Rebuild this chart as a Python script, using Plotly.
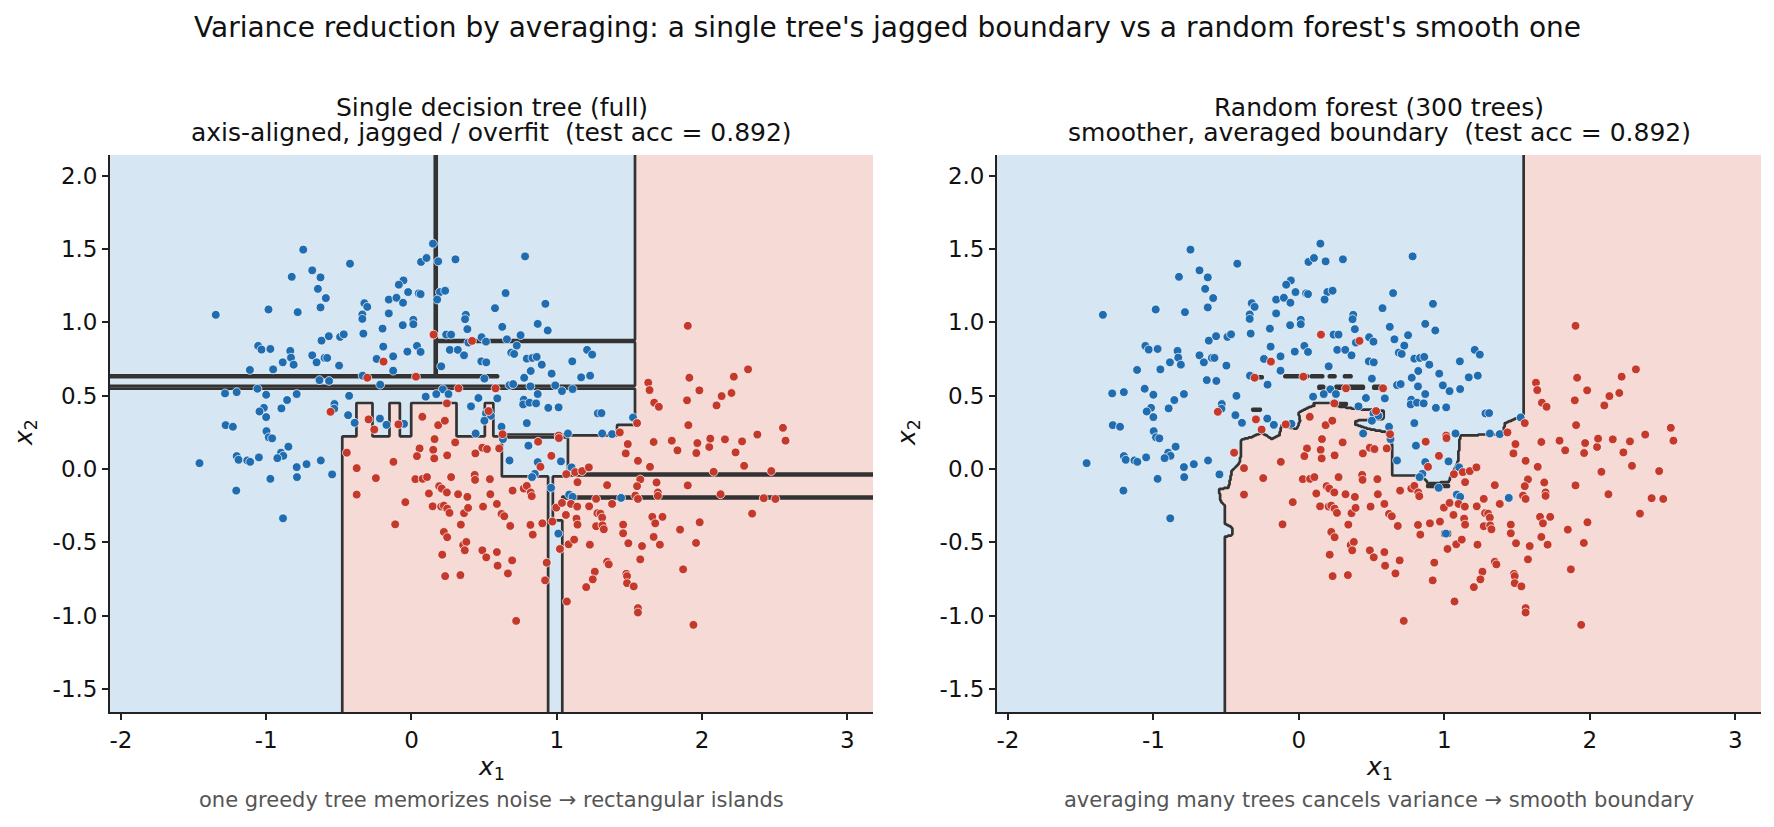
import numpy as np
import plotly.graph_objects as go

# ---------------- data ----------------
blue_pts = [
    (-0.745,1.495),(-0.423,1.399),(-0.824,1.31),(-0.683,1.354),(-0.626,1.306),(-0.644,1.228),(-0.589,1.165),
    (-1.347,1.051),(-0.984,1.087),(-0.783,1.069),(-0.626,1.101),(-0.324,1.130),(-0.304,1.105),(-0.156,1.155),
    (-0.156,1.060),(-0.338,1.053),(-0.338,1.023),(-0.199,0.957),(-0.331,0.923),(-0.619,0.875),(-0.569,0.905),
    (-0.491,0.900),(-0.466,0.918),(-0.194,0.834),(-1.055,0.839),(-1.032,0.814),(-0.971,0.818),(-0.834,0.805),
    (-0.829,0.759),(-0.811,0.711),(-0.886,0.727),(-0.683,0.775),(-0.653,0.727),(-0.598,0.757),(-0.580,0.757),
    (-0.498,0.705),(-0.240,0.750),(-1.112,0.675),(-0.952,0.679),(-0.336,0.636),(-0.215,0.575),(-0.633,0.606),
    (-0.567,0.600),(-1.283,0.515),(-1.203,0.524),(-1.060,0.547),(-1.000,0.506),(-0.790,0.511),(-0.429,0.499),
    (-0.856,0.470),(-1.016,0.417),(-1.046,0.392),(-0.895,0.413),(-0.530,0.443),(-0.532,0.411),(-1.0,0.354),
    (-0.436,0.367),(-0.391,0.315),(-0.217,0.344),(-0.172,0.301),(-1.279,0.299),(-1.229,0.288),(-0.998,0.258),
    (-0.982,0.216),(-0.959,0.209),(-0.847,0.152),(-0.898,0.111),(-0.882,0.090),(-0.923,0.074),(-1.203,0.088),
    (-1.190,0.063),(-1.130,0.058),(-1.110,0.049),(-1.050,0.079),(-1.459,0.040),(-0.790,0.013),(-0.722,0.033),
    (-0.624,0.058),(-0.971,-0.067),(-0.788,-0.055),(-0.546,-0.037),(-1.206,-0.147),(-0.884,-0.336),
    (0.148,1.536),(0.782,1.449),(0.066,1.411),(0.104,1.438),(0.184,1.415),(0.303,1.429),(-0.055,1.285),
    (-0.087,1.256),(-0.023,1.206),(0.050,1.197),(0.063,1.192),(-0.103,1.167),(-0.058,1.133),(0.196,1.206),
    (0.232,1.215),(0.177,1.155),(0.648,1.199),(0.922,1.126),(0.575,1.096),(0.374,1.051),(0.369,1.021),
    (0.013,1.017),(0.013,0.987),(-0.060,0.980),(0.385,0.953),(0.869,0.989),(0.938,0.944),(0.625,0.969),
    (0.239,0.916),(0.273,0.916),(0.483,0.898),(0.513,0.868),(0.392,0.862),(0.657,0.884),(0.751,0.912),
    (0.725,0.841),(0.038,0.839),(-0.028,0.800),(0.063,0.798),(0.264,0.812),(0.319,0.812),(0.362,0.775),
    (0.687,0.793),(0.707,0.784),(-0.126,0.768),(0.794,0.752),(0.833,0.757),(0.862,0.764),(0.897,0.711),
    (1.107,0.734),(1.209,0.812),(1.244,0.780),(0.481,0.734),(0.515,0.727),(0.205,0.700),(-0.126,0.670),
    (0.502,0.616),(0.776,0.622),(0.821,0.668),(0.965,0.650),(1.168,0.625),(1.230,0.636),(0.675,0.572),
    (0.700,0.579),(0.819,0.563),(0.990,0.570),(1.036,0.531),(1.109,0.545),(0.216,0.543),(0.171,0.511),
    (0.255,0.511),(0.098,0.493),(0.461,0.484),(0.591,0.481),(0.869,0.511),(0.773,0.472),(0.769,0.440),
    (0.812,0.452),(0.858,0.447),(0.942,0.417),(1.013,0.420),(0.410,0.427),(0.513,0.379),(0.547,0.363),
    (0.502,0.329),(-0.051,0.308),(0.794,0.313),(0.620,0.288),(0.442,0.242),(1.077,0.242),(1.283,0.379),
    (1.525,0.351),(1.308,0.381),(1.313,0.242),(1.381,0.238),
    (0.630,0.204),(0.805,0.159),(0.675,0.058),(0.869,0.047),(1.029,0.052),(1.102,0.011),(0.849,-0.033),
    (0.830,-0.055),(0.961,-0.128),(1.086,-0.174),(1.109,-0.190),(1.011,-0.440),(1.443,-0.197),
]
red_pts = [
    (-0.192,0.732),(-0.304,0.622),(-0.557,0.390),(-0.295,0.338),(-0.256,0.269),
    (-0.445,0.111),(-0.377,0.006),(-0.245,-0.062),(-0.377,-0.174),
    (0.417,0.873),(0.152,0.916),(0.031,0.629),(0.324,0.550),(0.579,0.550),(0.244,0.447),(0.531,0.395),
    (0.075,0.356),(0.184,0.299),(0.230,0.329),(-0.090,0.304),(1.013,0.228),(0.627,0.237),
    (1.902,0.976),(2.317,0.679),(2.219,0.629),(1.913,0.622),(1.630,0.588),(1.639,0.538),(1.982,0.536),
    (2.203,0.518),(2.135,0.497),(1.897,0.468),(2.100,0.433),(1.671,0.452),(1.703,0.424),(1.906,0.299),
    (2.557,0.281),(2.381,0.235),(1.553,0.313),(1.434,0.249),
    (0.159,0.204),(0.301,0.181),(0.056,0.140),(0.150,0.131),(0.038,0.088),(0.157,0.072),(0.246,0.093),
    (0.440,0.106),(0.488,0.145),(0.520,0.136),(0.604,0.140),(0.872,0.186),(1.015,0.211),(0.963,0.090),
    (-0.124,0.049),(0.027,-0.069),(0.077,-0.067),(0.107,-0.055),(0.273,-0.055),(0.435,-0.040),(0.438,-0.074),
    (0.540,-0.069),(0.191,-0.117),(0.209,-0.133),(0.244,-0.160),(0.120,-0.167),(0.321,-0.172),(0.385,-0.190),
    (0.543,-0.172),(0.696,-0.147),(0.773,-0.133),(0.794,-0.115),(0.821,-0.160),(0.828,-0.185),(0.888,0.015),
    (1.066,-0.035),(1.143,-0.090),(1.127,-0.021),(1.175,-0.014),(1.221,0.011),(-0.042,-0.226),(0.146,-0.254),
    (0.205,-0.256),(0.223,-0.249),(0.246,-0.270),(0.262,-0.299),(0.362,-0.301),(0.390,-0.265),(0.493,-0.256),
    (0.588,-0.238),(0.620,-0.306),(0.639,-0.322),(0.680,-0.388),(0.819,-0.381),(0.835,-0.447),(0.901,-0.370),
    (0.970,-0.358),(0.997,-0.263),(1.036,-0.231),(1.063,-0.313),(1.098,-0.238),(1.141,-0.256),(1.136,-0.338),
    (1.143,-0.379),(1.223,-0.254),(1.271,-0.203),(1.280,-0.301),(1.271,-0.390),(-0.112,-0.377),(0.340,-0.379),
    (0.223,-0.429),(0.246,-0.465),(0.356,-0.518),(0.378,-0.497),(0.367,-0.554),(0.212,-0.584),(0.488,-0.554),
    (0.515,-0.602),(0.588,-0.566),(0.593,-0.659),(0.693,-0.623),(0.664,-0.712),(0.232,-0.730),(0.337,-0.723),
    (0.931,-0.638),(0.920,-0.759),(1.022,-0.545),(1.082,-0.513),(1.120,-0.481),(1.228,-0.516),(1.262,-0.700),
    (1.248,-0.752),(1.203,-0.805),(1.070,-0.903),(0.721,-1.035),
    (1.489,0.170),(1.475,0.106),(1.667,0.184),(1.792,0.193),(1.831,0.127),(1.968,0.177),(1.961,0.109),
    (2.050,0.150),(2.057,0.207),(2.158,0.202),(2.276,0.188),(2.231,0.113),(2.575,0.193),(2.290,0.022),
    (2.477,-0.014),(2.080,-0.019),(1.559,0.056),(1.642,0.015),(1.575,-0.071),(1.553,-0.117),(1.687,-0.092),
    (1.902,-0.112),(1.347,-0.110),(1.541,-0.181),(1.559,-0.204),(1.696,-0.160),(1.696,-0.183),(2.128,-0.172),
    (2.425,-0.199),(2.505,-0.204),(2.345,-0.304),(1.381,-0.238),(1.301,-0.304),(1.313,-0.331),(1.315,-0.384),
    (1.324,-0.411),(1.457,-0.379),(1.457,-0.438),(1.658,-0.326),(1.678,-0.370),(1.728,-0.326),(1.984,-0.363),
    (1.849,-0.413),(1.667,-0.463),(1.493,-0.506),(1.587,-0.525),(1.710,-0.516),(1.959,-0.504),(1.575,-0.616),
    (1.347,-0.632),(1.358,-0.650),(1.479,-0.714),(1.484,-0.730),(1.484,-0.778),(1.530,-0.800),(1.870,-0.684),
    (1.559,-0.948),(1.559,-0.978),(1.941,-1.062),
]
blue_x1 = [p[0] for p in blue_pts]
blue_x2 = [p[1] for p in blue_pts]
red_x1 = [p[0] for p in red_pts]
red_x2 = [p[1] for p in red_pts]

# single tree leaves, painted in order: (x_lo, x_hi, y_lo, y_hi, class) 1 = red class
tree_leaves = [
    (1.540, 3.5, -2.0, 2.5, 1),
    (1.413, 1.540, -2.0, 0.298, 1),
    (1.076, 1.413, -2.0, 0.228, 1),
    (-0.476, 0.938, -2.0, 0.225, 1),
    (-0.382, -0.271, 0.225, 0.447, 1),
    (-0.152, -0.083, 0.225, 0.447, 1),
    (-0.003, 0.307, 0.225, 0.447, 1),
    (0.502, 0.564, 0.225, 0.447, 1),
    (0.973, 1.076, -2.0, -0.040, 1),
    (0.624, 1.076, -0.053, 0.225, 0),
    (0.938, 0.973, -0.350, -0.053, 0),
    (0.938, 1.041, -2.0, -0.350, 0),
    (0.160, 0.176, 0.637, 2.5, 1),
    (0.168, 1.540, 0.863, 0.879, 1),
    (-2.5, 0.594, 0.622, 0.638, 1),
    (-2.5, 1.540, 0.549, 0.565, 1),
    (0.640, 1.076, 0.218, 0.234, 1),
    (0.973, 3.5, -0.046, -0.030, 0),
    (1.035, 3.5, -0.203, -0.187, 0),
]

# random forest: upper edge of the red region, left to right
forest_edge_x1 = [-0.506, -0.506, -0.460, -0.460, -0.506, -0.506, -0.541, -0.547, -0.483, -0.460, -0.403,
                  -0.396, -0.323, -0.254, -0.185, -0.135, -0.117, -0.014, 0.009, -0.002, 0.078, 0.158, 0.273,
                  0.387, 0.502, 0.582, 0.582, 0.387, 0.387, 0.479, 0.616, 0.644, 0.644, 0.845, 0.891, 1.029,
                  1.056, 1.093, 1.109, 1.400, 1.418, 1.487, 1.544, 1.544]
forest_edge_x2 = [-2.0, -0.462, -0.449, -0.399, -0.374, -0.250, -0.213, -0.138, -0.125, -0.013, 0.049,
                  0.199, 0.219, 0.248, 0.204, 0.229, 0.298, 0.273, 0.328, 0.386, 0.423, 0.448, 0.428,
                  0.410, 0.403, 0.398, 0.343, 0.328, 0.303, 0.273, 0.248, 0.149, -0.046, -0.046, -0.100, -0.088,
                  -0.026, 0.049, 0.229, 0.236, 0.311, 0.343, 0.373, 2.5]
# small isolated forest islands: (x_lo, x_hi, y_lo, y_hi, class)
forest_islands = [
    (-0.100, 0.060, 0.622, 0.636, 1), (0.080, 0.170, 0.622, 0.636, 1), (0.205, 0.250, 0.622, 0.636, 1),
    (0.310, 0.365, 0.622, 0.636, 1), (0.136, 0.171, 0.550, 0.564, 1), (0.250, 0.445, 0.550, 0.564, 1),
    (0.513, 0.582, 0.550, 0.564, 1), (0.102, 0.330, 0.437, 0.451, 1), (-0.310, -0.250, 0.618, 0.632, 1),
    (-0.320, -0.260, 0.397, 0.411, 1), (0.985, 1.035, -0.455, -0.425, 0), (0.880, 1.030, -0.125, -0.110, 0),
]

tick_x1 = [-2, -1, 0, 1, 2, 3]
tick_x2 = [-1.5, -1.0, -0.5, 0.0, 0.5, 1.0, 1.5, 2.0]
X1_RANGE = [-2.075, 3.177]
X2_RANGE = [-1.656, 2.140]

# ---------------- styling ----------------
BLUE_BG, RED_BG = "#d6e6f3", "#f5dad6"
BLUE_PT, RED_PT = "#1f6db0", "#c5392b"
LINE_C = "#333333"
FONT = "DejaVu Sans"

# ---------------- grids ----------------
step = 0.0065
gx = np.arange(X1_RANGE[0] - 0.01, X1_RANGE[1] + 0.02, step)
gy = np.arange(X2_RANGE[0] - 0.01, X2_RANGE[1] + 0.02, step)
PX, PY = np.meshgrid(gx, gy)


def paint(Z, rects):
    for x0, x1, y0, y1, c in rects:
        m = (PX >= x0) & (PX < x1) & (PY >= y0) & (PY < y1)
        Z[m] = c
    return Z


Z_tree = paint(np.zeros(PX.shape, dtype=np.uint8), tree_leaves)

poly_x = np.array(forest_edge_x1 + [3.5, 3.5])
poly_y = np.array(forest_edge_x2 + [2.5, -2.0])
inside = np.zeros(PX.shape, dtype=bool)
n = len(poly_x)
j = n - 1
for i in range(n):
    xi, yi, xj, yj = poly_x[i], poly_y[i], poly_x[j], poly_y[j]
    if yi != yj:
        cond = ((yi > PY) != (yj > PY)) & (PX < (xj - xi) * (PY - yi) / (yj - yi) + xi)
        inside ^= cond
    j = i
Z_forest = paint(inside.astype(np.uint8), forest_islands)

fig = go.Figure()
for k, Z in enumerate([Z_tree, Z_forest]):
    xa = "x" if k == 0 else "x2"
    ya = "y" if k == 0 else "y2"
    fig.add_trace(go.Heatmap(x=gx, y=gy, z=Z, zmin=0, zmax=1, zsmooth=False,
                             colorscale=[[0, BLUE_BG], [1, RED_BG]], showscale=False,
                             hoverinfo="skip", xaxis=xa, yaxis=ya))
    fig.add_trace(go.Contour(x=gx, y=gy, z=Z, showscale=False, hoverinfo="skip",
                             contours=dict(start=0.5, end=0.5, size=1, coloring="none"),
                             line=dict(color=LINE_C, width=2.7, smoothing=0),
                             xaxis=xa, yaxis=ya))
    fig.add_trace(go.Scatter(x=blue_x1, y=blue_x2, mode="markers", showlegend=False, hoverinfo="skip",
                             marker=dict(color=BLUE_PT, size=8.8, line=dict(color="white", width=0.7)),
                             xaxis=xa, yaxis=ya))
    fig.add_trace(go.Scatter(x=red_x1, y=red_x2, mode="markers", showlegend=False, hoverinfo="skip",
                             marker=dict(color=RED_PT, size=8.8, line=dict(color="white", width=0.7)),
                             xaxis=xa, yaxis=ya))

W, H = 1774, 827
L, R, T, B = 110, 13, 155, 115
pw = W - L - R
ph = H - T - B
dom1 = [0, (873 - L) / pw]
dom2 = [(997 - L) / pw, 1.0]

axis_common = dict(showgrid=False, zeroline=False, showline=True, linecolor="#222222", linewidth=1.8,
                   ticks="outside", ticklen=6, tickwidth=1.6, tickcolor="#222222",
                   tickfont=dict(family=FONT, size=23, color="#111111"), mirror=False)
xt = dict(tickmode="array", tickvals=tick_x1, ticktext=[str(v) for v in tick_x1])
yt = dict(tickmode="array", tickvals=tick_x2, ticktext=[f"{v:.1f}" for v in tick_x2])

fig.update_layout(
    width=W, height=H, margin=dict(l=L, r=R, t=T, b=B),
    paper_bgcolor="white", plot_bgcolor="white", showlegend=False,
    xaxis=dict(domain=dom1, range=X1_RANGE, anchor="y", **axis_common, **xt),
    yaxis=dict(domain=[0, 1], range=X2_RANGE, anchor="x", **axis_common, **yt),
    xaxis2=dict(domain=dom2, range=X1_RANGE, anchor="y2", **axis_common, **xt),
    yaxis2=dict(domain=[0, 1], range=X2_RANGE, anchor="x2", **axis_common, **yt),
)


def py_to_paper(py):
    return (H - B - py) / ph


def px_to_paper(px):
    return (px - L) / pw


ann = []
ann.append(dict(text="Variance reduction by averaging: a single tree's jagged boundary vs a random forest's smooth one",
                x=px_to_paper(W / 2), y=py_to_paper(27), font=dict(family=FONT, size=28, color="#111111")))
centers = [(110 + 873) / 2, (997 + 1761) / 2]
titles = [("Single decision tree (full)", "axis-aligned, jagged / overfit  (test acc = 0.892)"),
          ("Random forest (300 trees)", "smoother, averaged boundary  (test acc = 0.892)")]
notes = ["one greedy tree memorizes noise \u2192 rectangular islands",
         "averaging many trees cancels variance \u2192 smooth boundary"]
ylab_x = [25, 908]
for c, (t1, t2), note, yl in zip(centers, titles, notes, ylab_x):
    ann.append(dict(text=t1, x=px_to_paper(c), y=py_to_paper(107), font=dict(family=FONT, size=25, color="#111111")))
    ann.append(dict(text=t2.replace("  ", "&nbsp; "), x=px_to_paper(c), y=py_to_paper(133),
                    font=dict(family=FONT, size=25, color="#111111")))
    ann.append(dict(text="<i>x</i><sub>1</sub>", x=px_to_paper(c), y=py_to_paper(768),
                    font=dict(family=FONT, size=25, color="#111111")))
    ann.append(dict(text=note, x=px_to_paper(c), y=py_to_paper(800),
                    font=dict(family=FONT, size=21, color="#555555")))
    ann.append(dict(text="<i>x</i><sub>2</sub>", x=px_to_paper(yl), y=py_to_paper(433), textangle=-90,
                    font=dict(family=FONT, size=25, color="#111111")))
for a in ann:
    a.update(xref="paper", yref="paper", showarrow=False, xanchor="center", yanchor="middle")
fig.update_layout(annotations=ann)

fig.write_html("out.html")
